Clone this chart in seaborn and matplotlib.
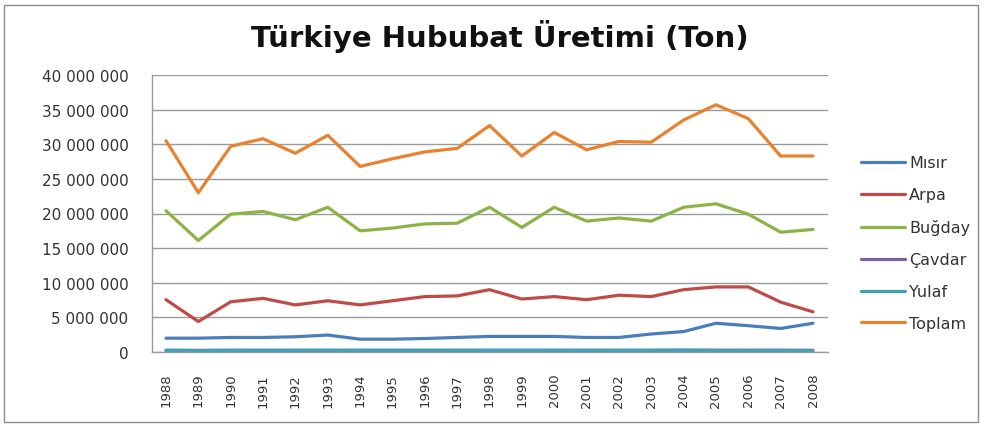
import matplotlib
matplotlib.use("Agg")
import matplotlib.pyplot as plt
import seaborn as sns
import pandas as pd
from matplotlib.ticker import FuncFormatter
from matplotlib.patches import Rectangle

# veriler (grafikten okunan yaklasik degerler, milyon ton)
yillar = list(range(1988, 2009))
misir = [2.0, 2.0, 2.1, 2.1, 2.2, 2.45, 1.85, 1.85, 1.95, 2.1, 2.25,
         2.25, 2.25, 2.1, 2.1, 2.6, 2.95, 4.15, 3.8, 3.4, 4.15]
arpa = [7.55, 4.4, 7.25, 7.75, 6.8, 7.4, 6.8, 7.4, 8.0, 8.1, 9.0,
        7.65, 8.0, 7.55, 8.2, 8.0, 9.0, 9.4, 9.4, 7.2, 5.8]
bugday = [20.4, 16.1, 19.9, 20.3, 19.1, 20.9, 17.5, 17.9, 18.5, 18.6, 20.9,
          18.0, 20.9, 18.9, 19.35, 18.9, 20.9, 21.4, 19.9, 17.3, 17.7]
cavdar = [0.24, 0.24, 0.24, 0.24, 0.24, 0.24, 0.24, 0.24, 0.24, 0.24, 0.24,
          0.24, 0.24, 0.24, 0.24, 0.24, 0.27, 0.27, 0.27, 0.27, 0.25]
yulaf = [0.25, 0.2, 0.25, 0.25, 0.25, 0.25, 0.25, 0.25, 0.25, 0.25, 0.25,
         0.25, 0.25, 0.25, 0.25, 0.25, 0.25, 0.2, 0.2, 0.2, 0.2]
toplam = [30.5, 23.0, 29.7, 30.8, 28.7, 31.3, 26.8, 27.9, 28.9, 29.4, 32.7,
          28.3, 31.7, 29.2, 30.4, 30.3, 33.5, 35.7, 33.7, 28.3, 28.3]

seriler = ["Mısır", "Arpa", "Buğday", "Çavdar", "Yulaf", "Toplam"]
renkler = ["#4A7EBB", "#BE4B48", "#8DB347", "#7D60A0", "#3FA1BA", "#E9822F"]

rows = []
for ad, vals in zip(seriler, [misir, arpa, bugday, cavdar, yulaf, toplam]):
    for y, v in zip(yillar, vals):
        rows.append({"Yil": y, "Ton": v * 1e6, "Seri": ad})
df = pd.DataFrame(rows)

sns.set_style("white")
plt.rcParams['font.family'] = ['DejaVu Sans']

fig = plt.figure(figsize=(9.9, 4.27), dpi=100)
ax = fig.add_axes([152/990, 1-353/427, (828-152)/990, (353-76)/427])

sns.lineplot(data=df, x="Yil", y="Ton", hue="Seri", hue_order=seriler,
             palette=renkler, linewidth=2.3, ax=ax, legend=True)

ax.set_ylim(0, 40e6)
ax.set_yticks(range(0, 40000001, 5000000))
ax.yaxis.set_major_formatter(FuncFormatter(lambda v, p: f"{int(v):,}".replace(",", " ")))
ax.set_xlim(1988 - 14/32.35, 2008 + 15/32.35)
ax.set_xticks(yillar)
ax.set_xticklabels([str(y) for y in yillar], rotation=90)
ax.tick_params(axis="y", length=0, labelsize=11, colors="#333333", pad=17)
ax.tick_params(axis="x", length=0, labelsize=9.5, colors="#333333", pad=15)
ax.grid(axis="y", color="#9a9a9a", linewidth=1)
ax.set_xlabel("")
ax.set_ylabel("")
for s in ["top", "right"]:
    ax.spines[s].set_visible(False)
for s in ["left", "bottom"]:
    ax.spines[s].set_color("#9a9a9a")
    ax.spines[s].set_linewidth(1)

leg = ax.legend(loc="upper left", bbox_to_anchor=(847/990, 1-142/427),
                bbox_transform=fig.transFigure, frameon=False, fontsize=11.5,
                handlelength=2.7, handletextpad=0.3, labelspacing=1.06)
for h in leg.get_lines():
    h.set_linewidth(2.3)
for t in leg.get_texts():
    t.set_color("#333333")

fig.text(0.505, 1-47/427, "Türkiye Hububat Üretimi (Ton)", ha="center", va="baseline",
         fontsize=21, fontweight="bold", color="#111111")

fig.patches.append(Rectangle((4/990, 4/427), 974/990, 417/427, transform=fig.transFigure,
                             fill=False, edgecolor="#8c8c8c", linewidth=1))

fig.savefig("out.png", dpi=100)
